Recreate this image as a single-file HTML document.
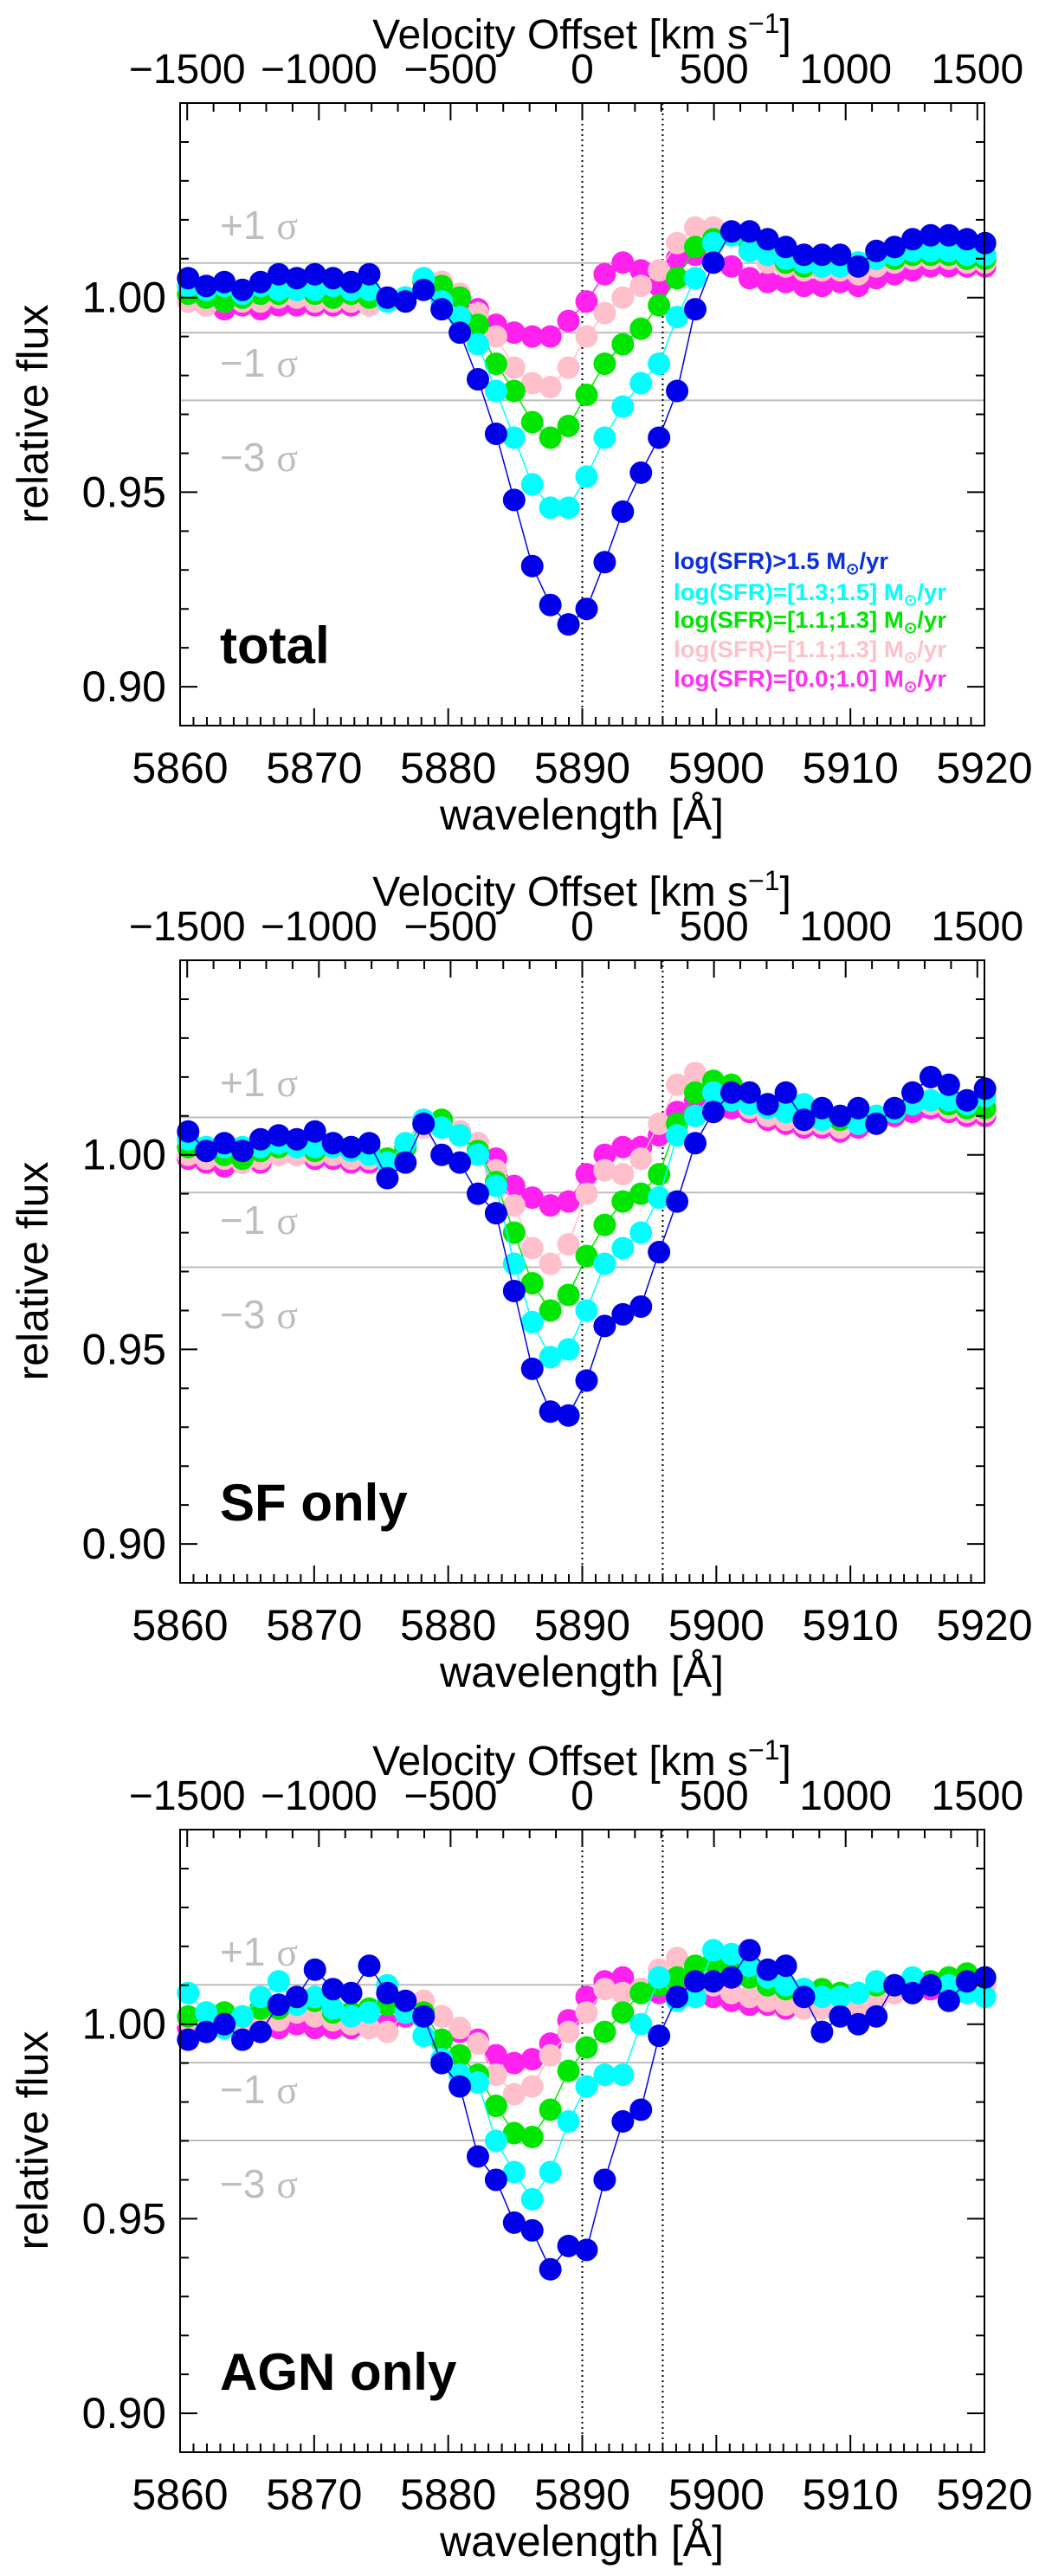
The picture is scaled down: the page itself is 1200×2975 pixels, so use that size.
<!DOCTYPE html>
<html><head><meta charset="utf-8"><style>
html,body{margin:0;padding:0;background:#fff;}
svg{display:block;font-family:"Liberation Sans",sans-serif;}
</style></head><body>
<svg id="fig" width="1200" height="2975" viewBox="0 0 1200 2975" xmlns="http://www.w3.org/2000/svg"></svg>
<script>
// ---------- data ----------
const waveStart = 5860.6;
const waveStep = 1.351;
const seriesNames = ["magenta","pink","green","cyan","blue"];
const seriesColors = ["#ff22ee","#ffc0cb","#00e600","#00ffff","#0000e8"];
const legendLabels = ["log(SFR)>1.5 M","log(SFR)=[1.3;1.5] M","log(SFR)=[1.1;1.3] M","log(SFR)=[1.1;1.3] M","log(SFR)=[0.0;1.0] M"];
const panelLabels = ["total","SF only","AGN only"];
const sigmaP1 = [1.0089,0.991,0.9736];
const sigmaP2 = [1.0096,0.9903,0.9711];
const sigmaP3 = [1.0101,0.9901,0.9701];
const xTicks = [5860,5870,5880,5890,5900,5910,5920];
const yTicks = [0.90,0.95,1.00];
const vTicks = [-1500,-1000,-500,0,500,1000,1500];

const blue1 = [1.005,1.003,1.004,1.002,1.004,1.006,1.005,1.006,1.005,1.004,1.006,1.000,0.999,1.002,0.997,0.991,0.979,0.965,0.948,0.931,0.921,0.916,0.920,0.932,0.945,0.955,0.964,0.976,0.997,1.009,1.017,1.017,1.015,1.013,1.011,1.011,1.011,1.008,1.012,1.013,1.015,1.016,1.016,1.015,1.014];
const cyan1 = [1.003,1.002,1.003,1.001,1.003,1.002,1.002,1.002,1.003,1.002,1.002,0.999,1.000,1.005,0.999,0.995,0.988,0.976,0.964,0.952,0.946,0.946,0.954,0.964,0.972,0.978,0.983,0.995,1.005,1.014,1.016,1.012,1.011,1.010,1.009,1.008,1.008,1.009,1.010,1.011,1.012,1.012,1.012,1.011,1.011];
const green1 = [1.001,1.000,0.999,1.000,1.001,1.001,1.002,1.001,1.000,1.001,1.000,0.999,1.000,1.004,1.003,1.000,0.993,0.983,0.976,0.968,0.964,0.967,0.975,0.983,0.988,0.992,0.998,1.005,1.013,1.015,1.016,1.014,1.011,1.009,1.008,1.008,1.008,1.009,1.010,1.010,1.011,1.011,1.011,1.010,1.010];
const pink1 = [0.999,0.998,0.999,0.999,0.999,1.000,1.000,0.999,0.999,0.999,0.998,0.999,1.000,1.004,1.004,1.001,0.996,0.990,0.982,0.978,0.977,0.982,0.990,0.996,1.000,1.003,1.007,1.014,1.018,1.018,1.016,1.012,1.009,1.008,1.007,1.007,1.007,1.006,1.008,1.009,1.010,1.010,1.010,1.009,1.009];
const mag1 = [0.999,0.998,0.997,0.998,0.997,0.998,0.998,0.998,0.998,0.998,0.998,0.999,1.000,1.004,1.004,1.000,0.997,0.993,0.991,0.990,0.990,0.994,0.999,1.006,1.009,1.007,1.003,1.010,1.011,1.009,1.008,1.005,1.004,1.004,1.003,1.003,1.004,1.003,1.005,1.006,1.007,1.008,1.008,1.008,1.008];

const blue2 = [1.006,1.001,1.003,1.001,1.004,1.005,1.004,1.006,1.003,1.002,1.003,0.994,0.998,1.008,1.000,0.998,0.990,0.985,0.965,0.945,0.934,0.933,0.942,0.956,0.959,0.961,0.975,0.988,1.003,1.011,1.016,1.016,1.013,1.016,1.009,1.012,1.010,1.012,1.008,1.012,1.016,1.020,1.018,1.014,1.017];
const cyan2 = [1.004,1.002,1.002,1.002,1.002,1.003,1.002,1.002,1.002,1.001,1.000,0.998,1.003,1.009,1.007,1.005,1.000,0.992,0.972,0.957,0.948,0.950,0.960,0.972,0.976,0.980,0.989,1.005,1.010,1.016,1.014,1.013,1.012,1.011,1.013,1.009,1.010,1.008,1.010,1.011,1.013,1.014,1.014,1.013,1.015];
const green2 = [1.002,1.001,1.000,0.999,1.001,1.002,1.002,1.001,1.002,1.002,1.002,0.999,1.002,1.008,1.009,1.005,1.001,0.993,0.980,0.967,0.960,0.964,0.974,0.982,0.988,0.990,0.995,1.008,1.016,1.019,1.018,1.016,1.013,1.011,1.009,1.010,1.009,1.010,1.010,1.011,1.013,1.014,1.013,1.012,1.012];
const pink2 = [1.000,0.999,0.999,0.998,0.999,1.000,1.000,1.000,1.000,0.999,0.999,0.999,1.002,1.007,1.008,1.006,1.003,0.996,0.987,0.976,0.972,0.977,0.990,0.996,0.995,0.999,1.008,1.018,1.021,1.018,1.014,1.012,1.010,1.009,1.008,1.008,1.007,1.008,1.010,1.011,1.013,1.013,1.012,1.011,1.011];
const mag2 = [0.999,0.998,0.997,0.998,0.998,1.000,1.000,0.999,0.999,0.998,0.998,0.999,1.002,1.008,1.007,1.006,1.003,0.999,0.992,0.989,0.987,0.988,0.995,1.000,1.002,1.002,1.005,1.011,1.014,1.013,1.012,1.011,1.009,1.008,1.007,1.007,1.006,1.007,1.009,1.010,1.011,1.012,1.011,1.010,1.010];

const blue3 = [0.996,0.998,1.000,0.996,0.998,1.005,1.007,1.014,1.009,1.008,1.015,1.008,1.006,1.002,0.990,0.984,0.966,0.960,0.949,0.947,0.937,0.943,0.942,0.960,0.975,0.978,0.997,1.007,1.011,1.011,1.012,1.019,1.014,1.015,1.007,0.998,1.002,1.000,1.002,1.010,1.008,1.010,1.006,1.011,1.012];
const cyan3 = [1.008,1.003,0.999,1.002,1.007,1.011,1.005,1.007,1.004,1.002,1.003,1.010,1.003,0.997,0.991,0.987,0.985,0.970,0.962,0.955,0.962,0.975,0.984,0.987,0.987,1.000,1.012,1.006,1.007,1.019,1.018,1.015,1.012,1.010,1.009,1.007,1.007,1.008,1.011,1.010,1.012,1.010,1.010,1.008,1.007];
const green3 = [1.002,1.003,1.003,1.002,1.004,1.004,1.006,1.006,1.003,1.003,1.004,1.005,1.004,1.003,0.996,0.992,0.987,0.979,0.972,0.971,0.978,0.988,0.994,0.998,1.003,1.008,1.010,1.012,1.015,1.016,1.014,1.012,1.010,1.009,1.009,1.009,1.008,1.008,1.010,1.010,1.011,1.011,1.012,1.013,1.012];
const pink3 = [1.001,1.000,1.000,0.999,1.000,1.001,1.003,1.002,1.001,1.000,0.999,0.998,1.003,1.006,1.002,0.999,0.995,0.987,0.982,0.984,0.992,0.998,1.003,1.009,1.008,1.009,1.014,1.017,1.012,1.010,1.008,1.007,1.006,1.005,1.004,1.004,1.004,1.005,1.006,1.008,1.009,1.010,1.010,1.010,1.010];
const mag3 = [0.999,0.999,0.999,0.999,0.999,0.999,1.000,0.999,0.999,0.999,1.000,1.000,1.002,1.002,1.002,0.998,0.996,0.992,0.990,0.991,0.995,1.001,1.007,1.011,1.012,1.009,1.008,1.010,1.008,1.007,1.006,1.005,1.005,1.004,1.005,1.005,1.006,1.006,1.007,1.008,1.008,1.009,1.009,1.009,1.010];

const panelSeries = [[mag1,pink1,green1,cyan1,blue1],[mag2,pink2,green2,cyan2,blue2],[mag3,pink3,green3,cyan3,blue3]];
const panelSigmas = [sigmaP1,sigmaP2,sigmaP3];

// ---------- layout ----------
const NS = "http://www.w3.org/2000/svg";
const svg = document.getElementById('fig');
const L = 208, R = 1137, H = 719;
const panelTops = [119,1109,2113];
const XMIN = 5860, XMAX = 5920, YMIN = 0.89, YMAX = 1.05;
const C = 299792.458, LAM0 = 5890;
function mk(tag, attrs, parent){const e=document.createElementNS(NS,tag);for(const k in attrs)e.setAttribute(k,attrs[k]);(parent||svg).appendChild(e);return e;}
function xs(l){return L+(l-XMIN)/(XMAX-XMIN)*(R-L);}

panelSeries.forEach((series, p) => {
  const T = panelTops[p], B = T + H;
  const ys = v => B - (v - YMIN)/(YMAX - YMIN)*H;
  const g = mk('g', {});
  
  

  panelSigmas[p].forEach((s, k) => {
    const ln = mk('line', {x1:L,x2:R,y1:ys(s),y2:ys(s),stroke:'#bdbdbd','stroke-width':2}, g);
    
    
  });
  [5890, 5896].forEach(w => {
    const ln = mk('line', {x1:xs(w),x2:xs(w),y1:T,y2:B,stroke:'#000','stroke-width':2,'stroke-dasharray':'2,4'}, g);
    
    
  });
  const sigTxt = ['+1 ','−1 ','−3 '];
  const sigY = [T+157, T+316, T+425];
  sigTxt.forEach((t, k) => {
    const tx = mk('text', {x:254,y:sigY[k],'font-size':46,fill:'#bdbdbd'}, g);
    tx.innerHTML = t + '<tspan font-family="Liberation Serif, serif">σ</tspan>';
    
    
  });

  series.forEach((vals, s) => {
    const sg = mk('g', {}, g);
    
    
    const pts = vals.map((v, i) => xs(waveStart + i*waveStep).toFixed(1) + ',' + ys(v).toFixed(1)).join(' ');
    const pl = mk('polyline', {points:pts, fill:'none', stroke:seriesColors[s], 'stroke-width':1.5}, sg);
    
    
    vals.forEach((v, i) => {
      const c = mk('circle', {cx:xs(waveStart + i*waveStep), cy:ys(v), r:13, fill:seriesColors[s]}, sg);
      
      
    });
  });

  const fr = mk('rect', {x:L,y:T,width:R-L,height:H,fill:'none',stroke:'#000','stroke-width':2}, g);
  
  

  let d = '';
  for (let w = XMIN; w <= XMAX; w++) {
    const len = (w % 10 === 0) ? 20 : 10;
    d += `M${xs(w)},${B}v${-len}`;
  }
  for (let k = 0; k <= 16; k++) {
    const v = YMIN + k*0.01;
    const len = (Math.abs(v*100 % 5) < 0.01 || Math.abs(v*100 % 5 - 5) < 0.01) ? 20 : 10;
    d += `M${L},${ys(v)}h${len}M${R},${ys(v)}h${-len}`;
  }
  for (let vel = -1500; vel <= 1500; vel += 100) {
    const lam = LAM0*(1 + vel/C);
    if (lam < XMIN - 0.01 || lam > XMAX + 0.01) continue;
    const len = (vel % 500 === 0) ? 20 : 10;
    d += `M${xs(lam)},${T}v${len}`;
  }
  const tk = mk('path', {d:d, stroke:'#000','stroke-width':2,fill:'none'}, g);
  
  

  xTicks.forEach(w => {
    const t = mk('text', {x:xs(w), y:B+66, 'font-size':50, 'text-anchor':'middle'}, g);
    t.textContent = w;
    
    
  });
  yTicks.forEach(v => {
    const t = mk('text', {x:192, y:ys(v)+17, 'font-size':50, 'text-anchor':'end'}, g);
    t.textContent = v.toFixed(2);
    
    
  });
  vTicks.forEach(vel => {
    const lam = LAM0*(1 + vel/C);
    const t = mk('text', {x:xs(lam), y:T-23, 'font-size':48, 'text-anchor':'middle'}, g);
    t.textContent = vel < 0 ? '−' + Math.abs(vel) : String(vel);
    
    
  });
  const vt = mk('text', {x:672, y:T-63, 'font-size':48, 'text-anchor':'middle'}, g);
  vt.innerHTML = 'Velocity Offset [km s<tspan dy="-18" font-size="32">−1</tspan><tspan dy="18">]</tspan>';
  
  

  const xt = mk('text', {x:672, y:B+120, 'font-size':50, 'text-anchor':'middle'}, g);
  xt.textContent = 'wavelength [Å]';
  
  

  const yt = mk('text', {x:0, y:0, 'font-size':50, 'text-anchor':'middle', transform:`translate(55,${T+359}) rotate(-90)`}, g);
  yt.textContent = 'relative flux';
  
  

  const pl = mk('text', {x:254, y:ys(0.906), 'font-size':60, 'font-weight':'bold'}, g);
  pl.textContent = panelLabels[p];
  
  

  if (p === 0) {
    const lg = mk('g', {}, g);
    
    
    const legColors = ["#0b2ee0","#00ffff","#00e600","#ffc0cb","#ff33ee"];
    const legY = [657, 693, 725, 759, 793];
    legendLabels.forEach((lab, k) => {
      const t = mk('text', {x:778, y:legY[k], 'font-size':27, 'font-weight':'bold', fill:legColors[k]}, lg);
      t.innerHTML = lab + '<tspan dy="6" font-size="18">⊙</tspan><tspan dy="-6">/yr</tspan>';
      t.setAttribute('textLength', k === 0 ? 248 : 315);
      t.setAttribute('lengthAdjust', 'spacingAndGlyphs');
      
      
    });
  }
});
</script>
</body></html>
